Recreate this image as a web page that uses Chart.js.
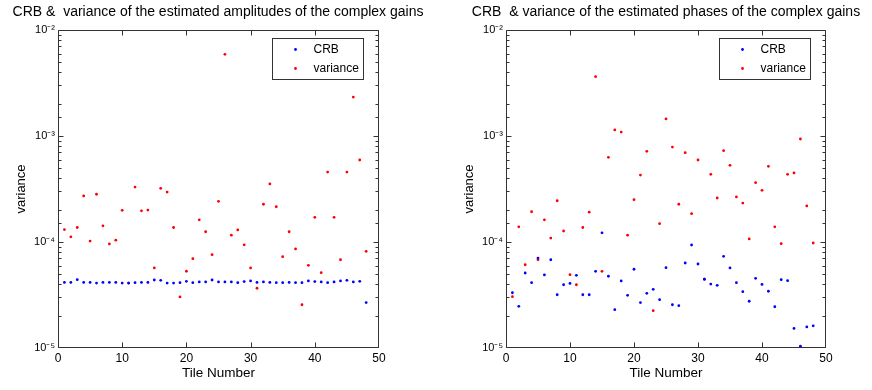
<!DOCTYPE html>
<html>
<head>
<meta charset="utf-8">
<script src="https://cdn.jsdelivr.net/npm/chart.js@4.4.1/dist/chart.umd.min.js"></script>
<style>
  html, body { margin: 0; padding: 0; background: #ffffff; }
  body { width: 872px; height: 390px; position: relative; overflow: hidden; }
  .box { position: absolute; top: 0; width: 436px; height: 390px; }
</style>
</head>
<body>
<div class="box" style="left:0px"><canvas id="c1" width="436" height="390"></canvas></div>
<div class="box" style="left:448px"><canvas id="c2" width="436" height="390"></canvas></div>
<script>
// ---------- data ----------
const tiles = [1,2,3,4,5,6,7,8,9,10,11,12,13,14,15,16,17,18,19,20,21,22,23,24,
               25,26,27,28,29,30,31,32,33,34,35,36,37,38,39,40,41,42,43,44,45,46,47,48];

const crbAmp = [4.16e-5,4.16e-5,4.41e-5,4.16e-5,4.16e-5,4.10e-5,4.16e-5,4.16e-5,4.16e-5,4.10e-5,
                4.10e-5,4.13e-5,4.16e-5,4.16e-5,4.38e-5,4.35e-5,4.10e-5,4.10e-5,4.13e-5,4.26e-5,
                4.13e-5,4.20e-5,4.20e-5,4.38e-5,4.20e-5,4.20e-5,4.20e-5,4.13e-5,4.23e-5,4.29e-5,
                4.16e-5,4.20e-5,4.16e-5,4.13e-5,4.13e-5,4.16e-5,4.13e-5,4.13e-5,4.29e-5,4.23e-5,
                4.20e-5,4.13e-5,4.20e-5,4.29e-5,4.35e-5,4.20e-5,4.26e-5,2.68e-5];

const varAmp = [1.31e-4,1.12e-4,1.37e-4,2.72e-4,1.02e-4,2.82e-4,1.42e-4,9.6e-5,1.04e-4,1.99e-4,
                4.1e-5,3.30e-4,1.97e-4,2.0e-4,5.69e-5,3.21e-4,2.96e-4,1.37e-4,3.03e-5,5.3e-5,
                6.96e-5,1.62e-4,1.25e-4,7.6e-5,2.42e-4,5.9e-3,1.16e-4,1.30e-4,9.4e-5,5.69e-5,
                3.66e-5,2.27e-4,3.53e-4,2.15e-4,7.27e-5,1.25e-4,8.6e-5,2.56e-5,6.03e-5,1.71e-4,
                5.14e-5,4.57e-4,1.71e-4,6.8e-5,4.57e-4,2.33e-3,5.94e-4,8.17e-5];

const crbPhase = [3.32e-5,2.47e-5,5.1e-5,4.13e-5,7.06e-5,4.89e-5,6.8e-5,3.18e-5,3.95e-5,4.07e-5,
                  4.85e-5,3.18e-5,3.18e-5,5.29e-5,1.22e-4,4.75e-5,2.30e-5,4.29e-5,3.14e-5,5.53e-5,
                  2.68e-5,3.28e-5,3.58e-5,2.86e-5,5.73e-5,2.56e-5,2.51e-5,6.34e-5,9.37e-5,6.2e-5,
                  4.45e-5,4.01e-5,3.90e-5,7.33e-5,5.69e-5,4.13e-5,3.40e-5,2.76e-5,4.54e-5,3.98e-5,
                  3.43e-5,2.45e-5,4.41e-5,4.32e-5,1.53e-5,1.04e-5,1.58e-5,1.62e-5];

const varPhase = [3.05e-5,1.39e-4,6.1e-5,1.93e-4,6.8e-5,1.62e-4,1.09e-4,2.45e-4,1.27e-4,4.92e-5,
                  3.95e-5,1.37e-4,1.91e-4,3.63e-3,5.29e-5,6.29e-4,1.14e-3,1.09e-3,1.16e-4,2.51e-4,
                  4.28e-4,7.17e-4,2.25e-5,1.49e-4,1.45e-3,7.87e-4,2.27e-4,6.96e-4,1.85e-4,5.94e-4,
                  4.45e-5,4.35e-4,2.60e-4,7.27e-4,5.29e-4,2.66e-4,2.33e-4,1.07e-4,3.63e-4,3.07e-4,
                  5.18e-4,1.39e-4,9.64e-5,4.35e-4,4.48e-4,9.37e-4,2.19e-4,9.79e-5];

const xTicks = [0, 10, 20, 30, 40, 50];
const seriesLabels = ['CRB', 'variance'];
const titles = ['CRB &  variance of the estimated amplitudes of the complex gains',
                'CRB  & variance of the estimated phases of the complex gains'];
const xLabel = 'Tile Number';
const yLabel = 'variance';

// ---------- helpers ----------
const FONT = "'Liberation Sans', Arial, Helvetica, sans-serif";
const SUP = {'-':'\u207B','0':'\u2070','1':'\u00B9','2':'\u00B2','3':'\u00B3','4':'\u2074',
             '5':'\u2075','6':'\u2076','7':'\u2077','8':'\u2078','9':'\u2079'};
function isDecade(v) { const l = Math.log10(v); return Math.abs(l - Math.round(l)) < 1e-6; }
function decadeLabel(v) {
  if (!isDecade(v)) return '';
  return '10' + String(Math.round(Math.log10(v))).split('').map(c => SUP[c]).join('');
}

const framePlugin = {
  id: 'frame',
  beforeDatasetsDraw(chart) {
    const {ctx, chartArea: a, scales: {x, y}} = chart;
    const L = Math.round(a.left) + 0.5, R = Math.round(a.right) - 0.5;
    const T = Math.round(a.top) + 0.5, B = Math.round(a.bottom) - 0.5;
    ctx.save();
    ctx.strokeStyle = '#333333';
    ctx.lineWidth = 1;
    ctx.beginPath();
    ctx.rect(L, T, R - L, B - T);
    x.ticks.forEach(t => {
      const px = Math.min(R, Math.max(L, Math.round(x.getPixelForValue(t.value)) + 0.5));
      ctx.moveTo(px, B); ctx.lineTo(px, B - 5);
      ctx.moveTo(px, T); ctx.lineTo(px, T + 5);
    });
    y.ticks.forEach(t => {
      const py = Math.min(B, Math.max(T, Math.round(y.getPixelForValue(t.value)) + 0.5));
      const len = isDecade(t.value) ? 5 : 3;
      ctx.moveTo(L, py); ctx.lineTo(L + len, py);
      ctx.moveTo(R, py); ctx.lineTo(R - len, py);
    });
    ctx.stroke();
    ctx.restore();
  },
  afterDatasetsDraw(chart) {
    const {ctx, chartArea: a} = chart;
    const w = 91, h = 41;
    const bx = Math.round(a.right - 16 - w) + 0.5, by = Math.round(a.top + 8) + 0.5;
    ctx.save();
    ctx.fillStyle = '#ffffff';
    ctx.strokeStyle = '#333333';
    ctx.lineWidth = 1;
    ctx.fillRect(bx, by, w, h);
    ctx.strokeRect(bx, by, w, h);
    ctx.font = '12px ' + FONT;
    ctx.textBaseline = 'middle';
    ctx.textAlign = 'left';
    chart.data.datasets.forEach((ds, i) => {
      const yy = by + 11 + i * 19;
      ctx.fillStyle = ds.backgroundColor;
      ctx.beginPath();
      ctx.arc(bx + 23, yy, 1.4, 0, Math.PI * 2);
      ctx.fill();
      ctx.fillStyle = '#000000';
      ctx.fillText(ds.label, bx + 41, yy);
    });
    ctx.restore();
  }
};

function makeChart(id, title, crb, vari, rightWidth) {
  return new Chart(document.getElementById(id), {
    type: 'scatter',
    data: {
      datasets: [
        { label: seriesLabels[0], data: tiles.map((t, i) => ({x: t, y: crb[i]})),
          backgroundColor: '#0000ff', borderWidth: 0, pointRadius: 1.4, pointHoverRadius: 1.4 },
        { label: seriesLabels[1], data: tiles.map((t, i) => ({x: t, y: vari[i]})),
          backgroundColor: '#ff0000', borderWidth: 0, pointRadius: 1.4, pointHoverRadius: 1.4 }
      ]
    },
    options: {
      responsive: false,
      animation: false,
      events: [],
      layout: { padding: 0 },
      plugins: {
        legend: { display: false },
        tooltip: { enabled: false },
        title: {
          display: true, text: title, color: '#000000',
          font: { family: FONT, size: 14, weight: 'normal', lineHeight: 1.2 },
          padding: { top: 4, bottom: 9.2 }
        }
      },
      scales: {
        x: {
          type: 'linear', min: 0, max: 50,
          afterBuildTicks: s => { s.ticks = xTicks.map(v => ({value: v})); },
          ticks: { color: '#000000', font: { family: FONT, size: 12 }, padding: 3, maxRotation: 0, autoSkip: false },
          grid: { display: false, drawTicks: false },
          border: { display: false },
          title: { display: true, text: xLabel, color: '#000000',
                   font: { family: FONT, size: 13.5, lineHeight: 1.2 }, padding: { top: 0, bottom: 9 } },
          afterFit: s => { s.height = 42; }
        },
        y: {
          type: 'logarithmic', min: 1e-5, max: 1e-2,
          ticks: { color: '#000000', font: { family: FONT, size: 11 }, padding: 3, autoSkip: false,
                   callback: v => decadeLabel(v) },
          grid: { display: false, drawTicks: false },
          border: { display: false },
          title: { display: true, text: yLabel, color: '#000000',
                   font: { family: FONT, size: 13, lineHeight: 1.2 }, padding: { top: 13.2, bottom: 0 } },
          afterFit: s => { s.width = 58; }
        },
        yr: {
          type: 'linear', position: 'right', display: true,
          ticks: { display: false },
          grid: { display: false, drawTicks: false },
          border: { display: false },
          afterFit: s => { s.width = rightWidth; }
        }
      }
    },
    plugins: [framePlugin]
  });
}

makeChart('c1', titles[0], crbAmp, varAmp, 57);
makeChart('c2', titles[1], crbPhase, varPhase, 58);
</script>
</body>
</html>
